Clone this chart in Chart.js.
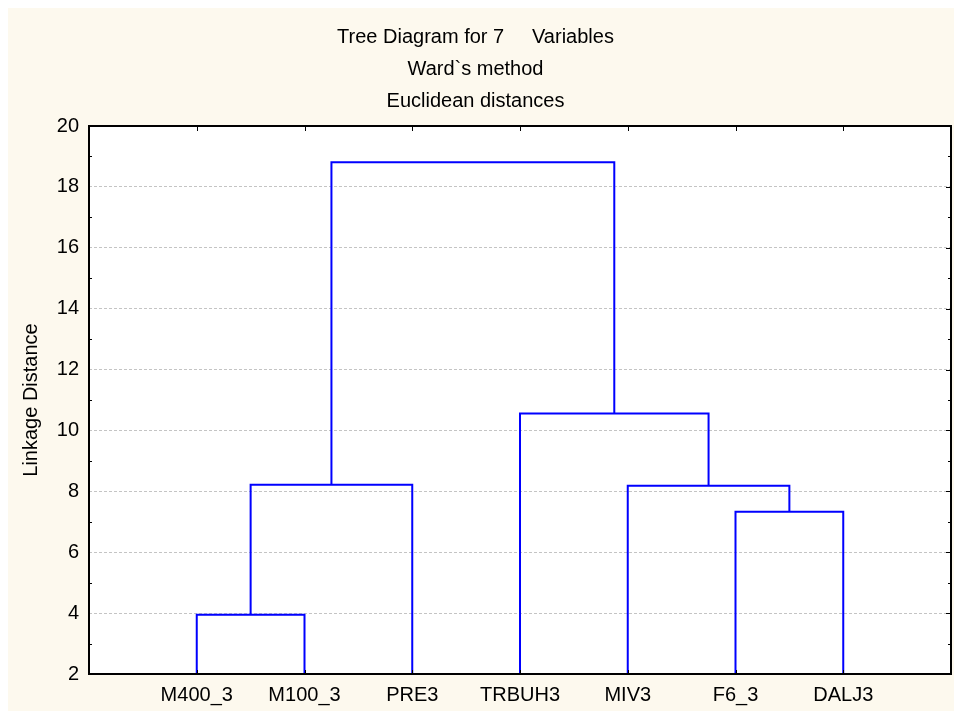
<!DOCTYPE html>
<html>
<head>
<meta charset="utf-8">
<script src="https://cdn.jsdelivr.net/npm/chart.js@4.4.1/dist/chart.umd.min.js"></script>
<style>
  html, body { margin: 0; padding: 0; background: #ffffff; }
  #wrap { width: 954px; height: 713px; position: relative; }
</style>
</head>
<body>
<div id="wrap"><canvas id="c" width="954" height="713"></canvas></div>
<script>
// ---- data ----
const categories = ['M400_3', 'M100_3', 'PRE3', 'TRBUH3', 'MIV3', 'F6_3', 'DALJ3'];
// merges: node ids 0..6 are leaves, 7.. are clusters in merge order
const mergeLeft   = [0, 7, 5, 4, 3, 8];
const mergeRight  = [1, 2, 6, 9, 10, 11];
const mergeHeight = [3.95, 8.22, 7.33, 8.18, 10.56, 18.81];
const yTicks = [2, 4, 6, 8, 10, 12, 14, 16, 18, 20];
const titleLines = ['Tree Diagram for 7     Variables', 'Ward`s method', 'Euclidean distances'];
const yTitle = 'Linkage Distance';

// ---- build dendrogram paths ----
const yMin = yTicks[0], yMax = yTicks[yTicks.length - 1];
const nodeX = categories.map((_, i) => i + 1);
const nodeH = categories.map(() => yMin);
const datasets = [];
mergeLeft.forEach((l, k) => {
  const r = mergeRight[k], h = mergeHeight[k];
  datasets.push({
    data: [
      {x: nodeX[l], y: nodeH[l]},
      {x: nodeX[l], y: h},
      {x: nodeX[r], y: h},
      {x: nodeX[r], y: nodeH[r]}
    ],
    borderColor: '#0000ff',
    borderWidth: 2,
    pointRadius: 0,
    pointHoverRadius: 0,
    showLine: true,
    fill: false,
    tension: 0,
    borderJoinStyle: 'miter',
    borderCapStyle: 'butt'
  });
  nodeX.push((nodeX[l] + nodeX[r]) / 2);
  nodeH.push(h);
});

const FONT = "'Liberation Sans', Arial, sans-serif";

const decor = {
  id: 'decor',
  beforeDraw(chart) {
    const ctx = chart.ctx, a = chart.chartArea;
    ctx.save();
    ctx.fillStyle = '#ffffff';
    ctx.fillRect(0, 0, chart.width, chart.height);
    ctx.fillStyle = '#fdf9ee';
    ctx.fillRect(8, 8, chart.width - 8, chart.height - 10);
    ctx.fillStyle = '#ffffff';
    ctx.fillRect(a.left, a.top, a.right - a.left, a.bottom - a.top);
    ctx.restore();
  },
  afterDraw(chart) {
    const ctx = chart.ctx, a = chart.chartArea;
    const xs = chart.scales.x, ys = chart.scales.y;
    ctx.save();
    ctx.strokeStyle = '#000000';
    ctx.lineWidth = 1;
    ctx.beginPath();
    // category ticks (top and bottom, inward)
    categories.forEach((_, i) => {
      const px = Math.round(xs.getPixelForValue(i + 1)) + 0.5;
      ctx.moveTo(px, a.top); ctx.lineTo(px, a.top + 5);
      ctx.moveTo(px, a.bottom); ctx.lineTo(px, a.bottom - 4);
    });
    // y ticks: minor on left, all on right
    for (let v = yMin; v <= yMax; v += 1) {
      const py = Math.round(ys.getPixelForValue(v)) + 0.5;
      const major = (v % 2 === 0);
      if (!major) { ctx.moveTo(a.left, py); ctx.lineTo(a.left + 3, py); }
      ctx.moveTo(a.right, py); ctx.lineTo(a.right - (major ? 5 : 3), py);
    }
    ctx.stroke();
    ctx.lineWidth = 2;
    ctx.strokeRect(a.left, a.top, a.right - a.left, a.bottom - a.top);
    ctx.restore();
  }
};

new Chart(document.getElementById('c'), {
  type: 'scatter',
  data: { datasets },
  plugins: [decor],
  options: {
    responsive: false,
    animation: false,
    devicePixelRatio: 1,
    layout: { padding: { left: 0, right: 3, top: 0, bottom: 0 } },
    plugins: {
      legend: { display: false },
      tooltip: { enabled: false },
      title: {
        display: true,
        text: titleLines,
        color: '#000000',
        font: { family: FONT, size: 20, weight: 'normal', lineHeight: 1.6 },
        padding: { top: 21, bottom: 9 }
      }
    },
    scales: {
      x: {
        type: 'linear',
        min: 0,
        max: categories.length + 1,
        afterBuildTicks(scale) {
          scale.ticks = categories.map((_, i) => ({ value: i + 1 }));
        },
        afterFit(scale) { scale.height = 39; },
        ticks: {
          autoSkip: false,
          maxRotation: 0,
          padding: 9,
          color: '#000000',
          font: { family: FONT, size: 20 },
          callback: (v) => categories[v - 1] ?? ''
        },
        grid: { display: true, drawOnChartArea: false, drawTicks: false },
        border: { display: false }
      },
      y: {
        type: 'linear',
        min: yMin,
        max: yMax,
        afterBuildTicks(scale) {
          scale.ticks = yTicks.map(v => ({ value: v }));
        },
        afterFit(scale) { scale.width = 89; },
        ticks: {
          padding: 10,
          color: '#000000',
          font: { family: FONT, size: 20 }
        },
        grid: {
          drawTicks: false,
          color: (c) => (c.tick && (c.tick.value === yMin || c.tick.value === yMax)) ? 'rgba(0,0,0,0)' : '#c4c4c4',
          lineWidth: 1
        },
        border: { display: false, dash: [3, 2] },
        title: {
          display: true,
          text: yTitle,
          color: '#000000',
          font: { family: FONT, size: 20 },
          padding: { top: 19, bottom: 0 }
        }
      }
    }
  }
});
</script>
</body>
</html>
